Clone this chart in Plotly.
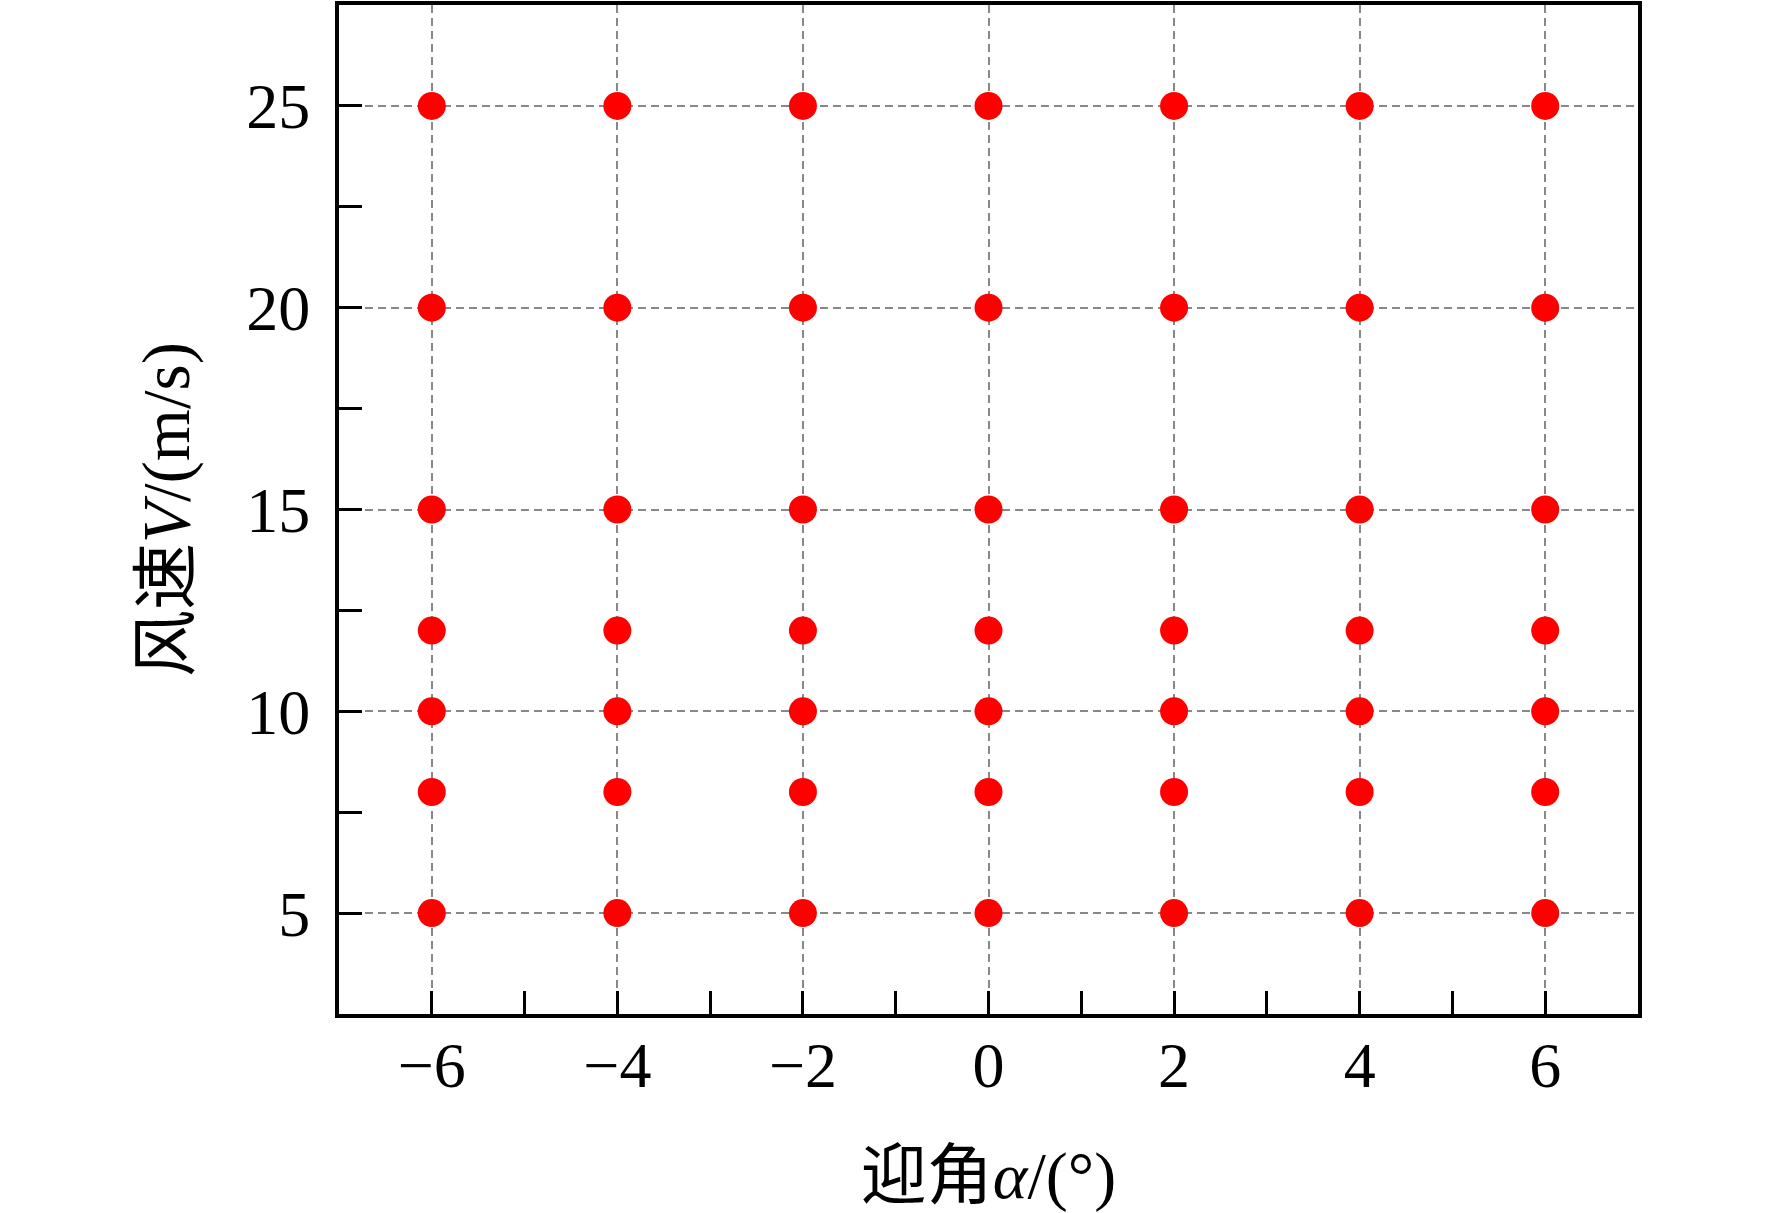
import itertools
import plotly.graph_objects as go

# test grid: angle of attack (deg) x wind speed (m/s)
alpha = [-6, -4, -2, 0, 2, 4, 6]
speed = [5, 8, 10, 12, 15, 20, 25]

x_ticks = [-6, -4, -2, 0, 2, 4, 6]
y_ticks = [5, 10, 15, 20, 25]

pts = list(itertools.product(alpha, speed))
xs = [p[0] for p in pts]
ys = [p[1] for p in pts]

serif = "Liberation Serif, Times New Roman, Noto Sans CJK SC, serif"

fig = go.Figure()
fig.add_trace(go.Scatter(
    x=xs, y=ys, mode="markers",
    marker=dict(color="#ff0000", size=28, line=dict(width=0)),
    showlegend=False,
))

axis_common = dict(
    showline=True, linecolor="black", linewidth=4, mirror=True,
    ticks="inside", ticklen=23, tickwidth=3, tickcolor="black",
    showgrid=True, gridcolor="#888888", gridwidth=2, griddash="8px,5px",
    zeroline=False,
    tickfont=dict(family=serif, size=64, color="black"),
)

fig.update_xaxes(
    range=[-7, 7], tickvals=x_ticks,
    minor=dict(ticks="inside", ticklen=23, tickwidth=3, tickcolor="black",
               dtick=1, showgrid=False),
    title=dict(text="迎角<i>α</i>/(°)", font=dict(family=serif, size=66, color="black"),
               standoff=54),
    ticklabelstandoff=-8,
    **axis_common,
)
fig.update_yaxes(
    range=[2.5, 27.5], tickvals=y_ticks,
    minor=dict(ticks="inside", ticklen=23, tickwidth=3, tickcolor="black",
               dtick=2.5, showgrid=False),
    title=dict(text="风速<i>V</i>/(m/s)", font=dict(family=serif, size=67, color="black"),
               standoff=36),
    ticklabelstandoff=12,
    **axis_common,
)

fig.update_layout(
    width=1772, height=1213,
    margin=dict(l=339, r=134, t=1, b=199),
    plot_bgcolor="white", paper_bgcolor="white",
)

# drop the default page margin so the figure sits at the window origin
fig.write_html("out.html", config={"displayModeBar": False},
               post_script="document.body.style.margin='0';")
